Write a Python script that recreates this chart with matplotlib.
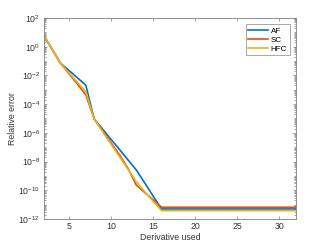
import matplotlib

matplotlib.use("Agg")
import matplotlib.pyplot as plt
import numpy as np
from matplotlib.ticker import FixedLocator, LogFormatterSciNotation, NullFormatter

plt.rcParams["font.family"] = ["Liberation Sans", "DejaVu Sans"]
plt.rcParams["mathtext.default"] = "regular"

# derivative index 2..32
derivs = list(range(2, 33))

# relative error (flat from 16 onwards)
af = [6, 0.65, 0.07, 0.022, 6.8e-3, 2.1e-3, 9e-6, 1.8e-6, 3.5e-7, 7e-8,
      1.35e-8, 2.6e-9, 3.3e-10, 4e-11, 5e-12] + [5e-12] * 16
sc = [6, 0.65, 0.07, 0.013, 2.5e-3, 4.4e-4, 9e-6, 1.4e-6, 2e-7, 3e-8,
      3.5e-9, 2.3e-10, 7e-11, 2.2e-11, 6.6e-12] + [6.6e-12] * 16
hfc = [6, 0.65, 0.07, 0.015, 3.3e-3, 7.4e-4, 9e-6, 1.2e-6, 1.6e-7, 2.2e-8,
       3e-9, 4e-10, 8e-11, 1.7e-11, 3.8e-12] + [3.8e-12] * 16

series = [("AF", af, "#0072BD"), ("SC", sc, "#D95319"), ("HFC", hfc, "#EDB120")]

fig = plt.figure(figsize=(3.28, 2.46), dpi=100)
ax = fig.add_axes([0.1335, 0.1098, 0.769, 0.817])

for name, vals, col in series:
    ax.plot(derivs, vals, color=col, linewidth=1.2, label=name)

ax.set_yscale("log")
ax.set_xlim(2, 32)
ax.set_ylim(1e-12, 1e2)
ax.set_xticks([5, 10, 15, 20, 25, 30])

major = [10.0 ** k for k in range(-12, 3, 2)]
minor = [m * 10.0 ** k for k in range(-12, 2) for m in range(1, 10)
         if not (m == 1 and k % 2 == 0)]
ax.yaxis.set_major_locator(FixedLocator(major))
ax.yaxis.set_major_formatter(LogFormatterSciNotation())
ax.yaxis.set_minor_locator(FixedLocator(minor))
ax.yaxis.set_minor_formatter(NullFormatter())

grey = "#333333"
for sp in ax.spines.values():
    sp.set_color("#808080")
    sp.set_linewidth(0.6)
ax.tick_params(which="both", direction="in", top=True, right=True,
               colors="#808080", labelcolor=grey, labelsize=6.3, width=0.5)
ax.tick_params(which="major", length=2.5, pad=2.5)
ax.tick_params(which="minor", length=1.3)

ax.set_xlabel("Derivative used", fontsize=6.3, color=grey, labelpad=1)
ax.set_ylabel("Relative error", fontsize=6.3, color=grey, labelpad=1)

leg = ax.legend(loc="upper right", fontsize=5.8, frameon=True, fancybox=False,
                borderpad=0.3, handlelength=2.4, handletextpad=0.4,
                labelspacing=0.2, borderaxespad=0.8)
leg.get_frame().set_edgecolor("#808080")
leg.get_frame().set_linewidth(0.6)

fig.savefig("out.png", dpi=100)
